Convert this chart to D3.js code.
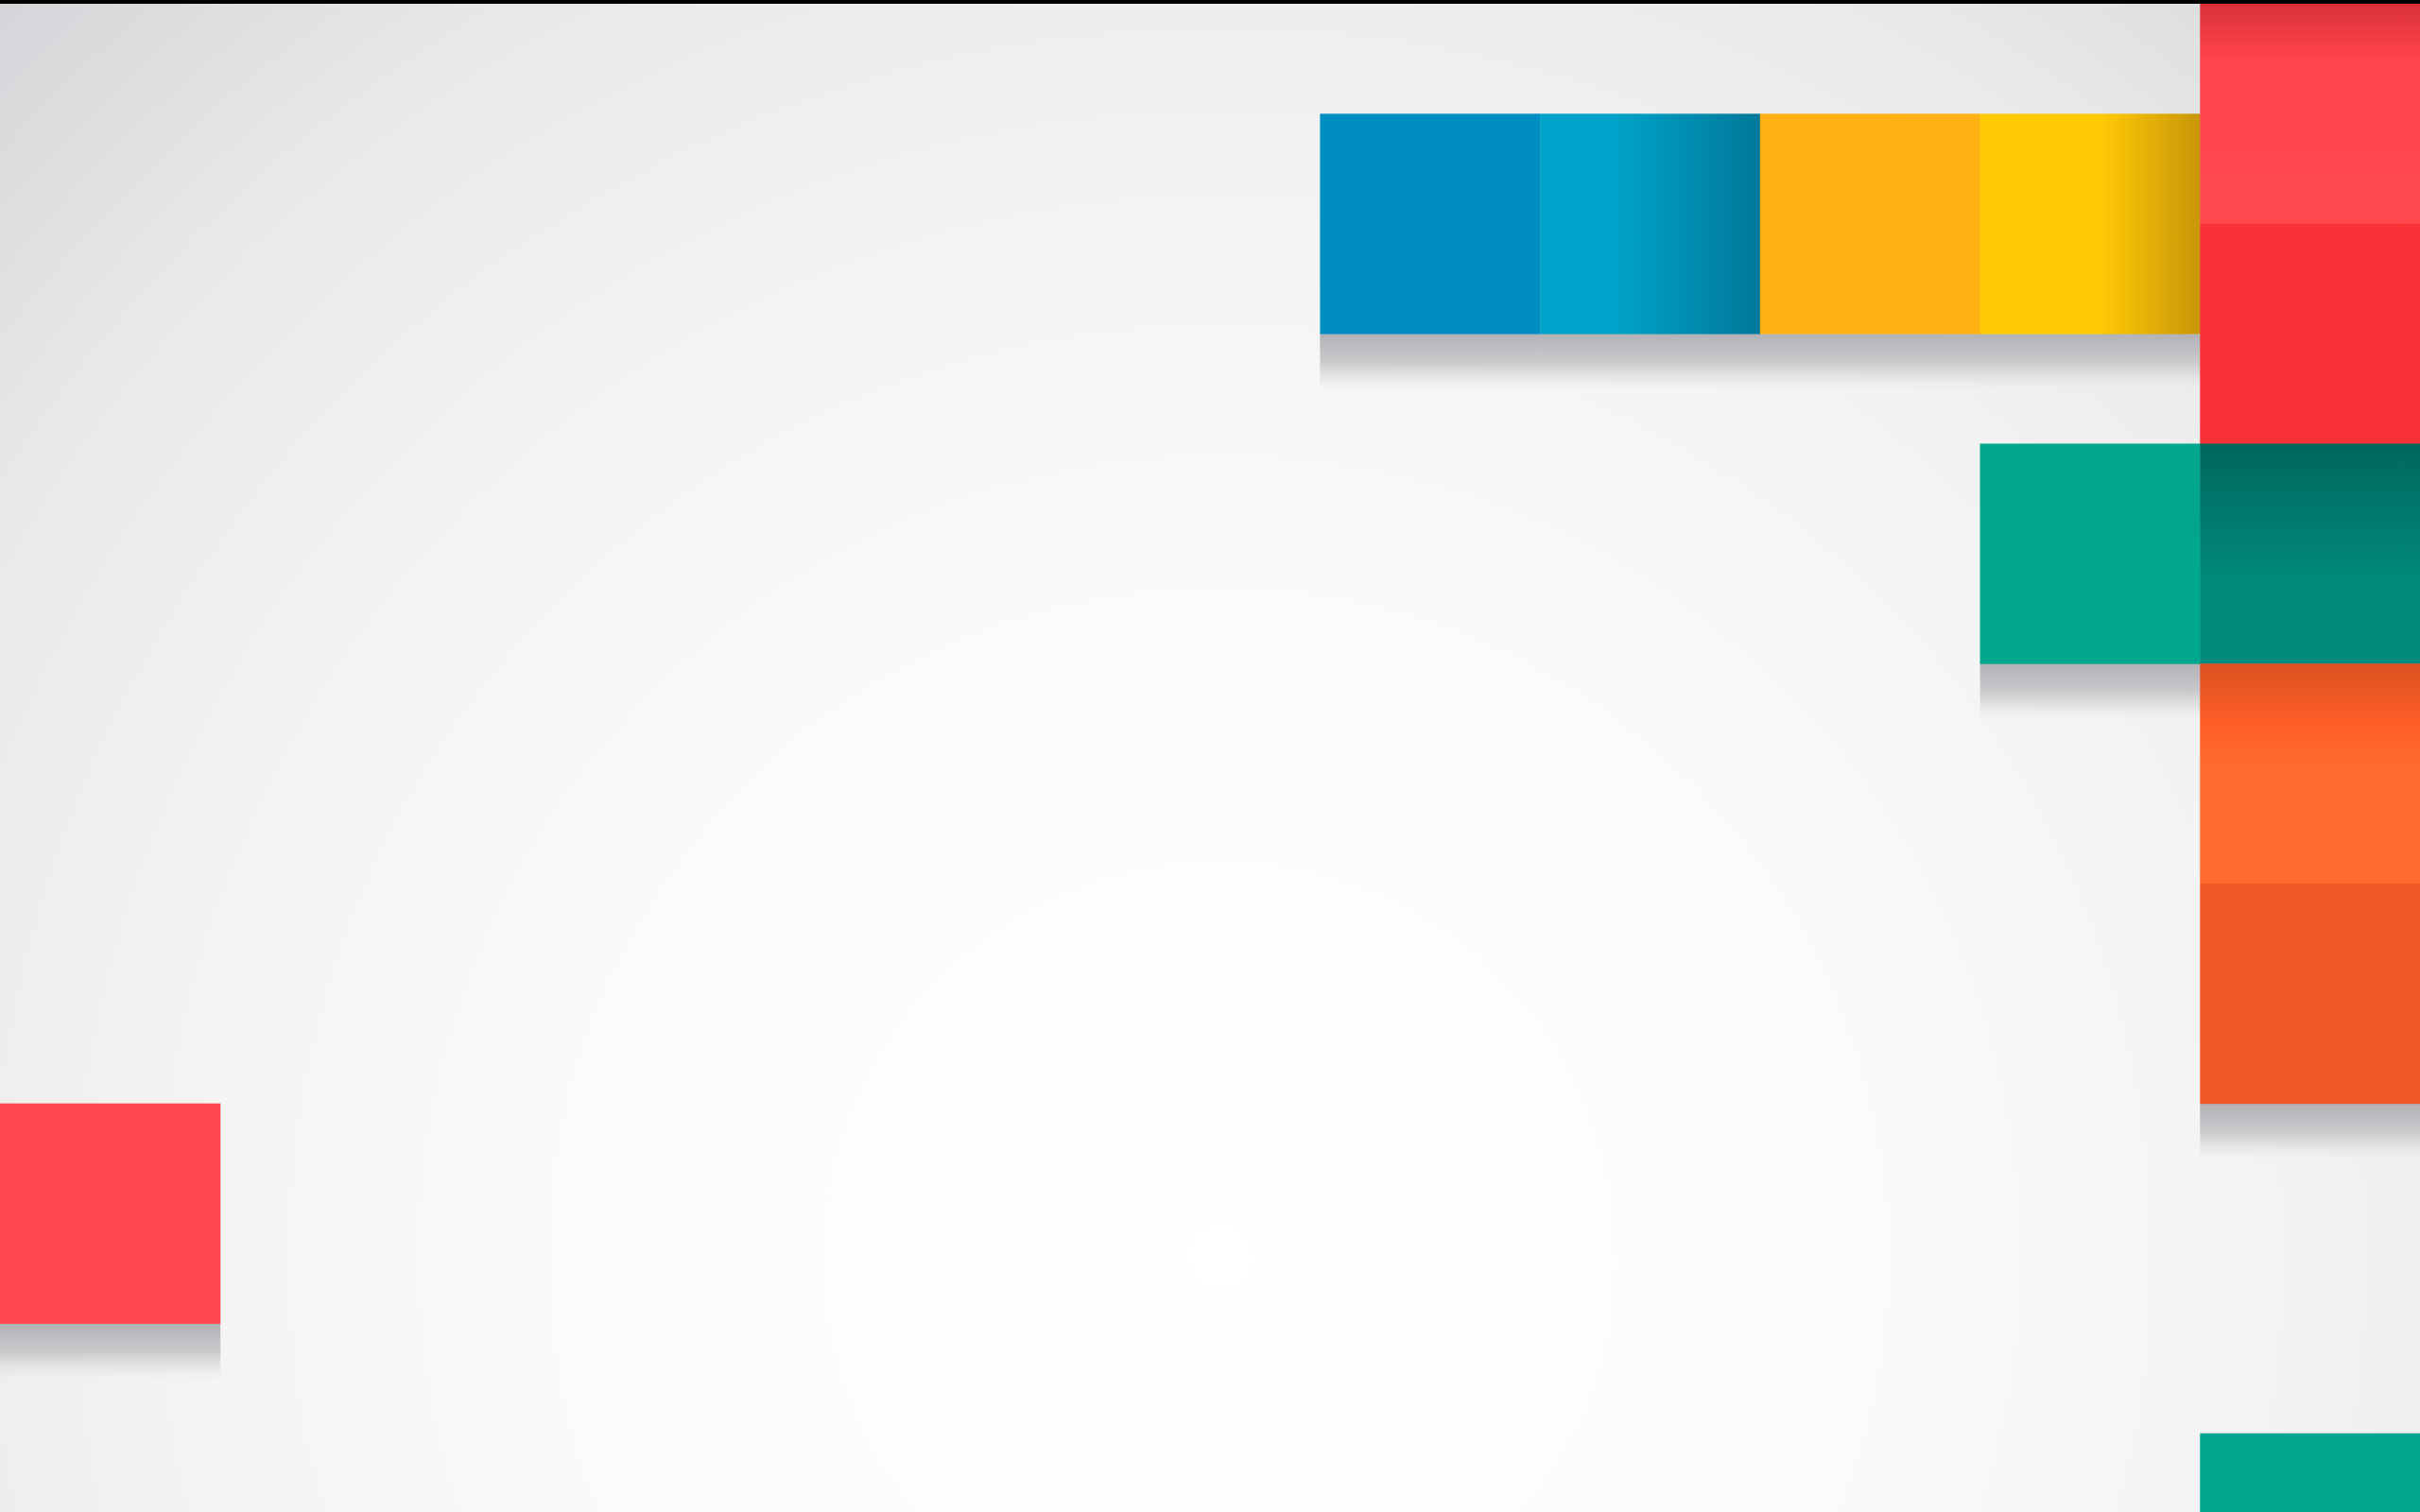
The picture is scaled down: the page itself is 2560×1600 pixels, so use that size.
<!DOCTYPE html>
<html>
<head>
<meta charset="utf-8">
<script src="https://cdn.jsdelivr.net/npm/d3@7"></script>
<style>
  html, body { margin: 0; padding: 0; background: #f2f2f2; overflow: hidden; }
  #tiles-graphic { width: 2560px; height: 1600px; }
</style>
</head>
<body>
<div id="tiles-graphic"></div>
<script>
// tile grid: 11 columns, rows are the same size as columns
var tileCols  = [6, 7, 8, 9, 10, 10, 9, 10, 10, 10, 0, 10];
var tileRows  = [0.5, 0.5, 0.5, 0.5, 0, 1, 2, 2, 3, 4, 5, 6.5];
var tileFills = ["#008dc2", "grad-cyan", "#ffb114", "grad-yellow", "grad-red",
                 "#f93238", "#00a68d", "grad-teal", "grad-orange", "#f2572a",
                 "#ff474d", "#00a68d"];

// gradient stops, [offset, colour]
var gradCyan   = [[0, "#00a3c9"], [0.33, "#00a3c9"], [1, "#007899"]];
var gradYellow = [[0, "#ffc905"], [0.55, "#ffc905"], [1, "#c8960a"]];
var gradRed    = [[0, "#da3139"], [0.25, "#ff444b"], [1, "#ff494f"]];
var gradTeal   = [[0, "#00675d"], [0.6, "#00897a"], [1, "#008c7c"]];
var gradOrange = [[0, "#da5020"], [0.28, "#ff5e27"], [0.45, "#ff6a2e"], [1, "#ff6a2e"]];

var W = 2560, H = 1600;
var ncols = 11;
var cell = W / ncols;
var topBar = 4;

var x = d3.scaleLinear().domain([0, ncols]).range([0, W]);
var y = d3.scaleLinear().domain([0, 1]).range([topBar, topBar + cell]);

var tiles = tileCols.map(function (c, i) {
  return { col: c, row: tileRows[i], fill: tileFills[i] };
});

// 下面没有方块的才有阴影
var shadowed = tiles.filter(function (t) {
  return !tiles.some(function (o) { return o.col == t.col && o.row == t.row + 1; });
});

var svg = d3.select("#tiles-graphic")
  .append("svg")
  .attr("width", W)
  .attr("height", H);

var defs = svg.append("defs");

// background: soft radial light from lower middle
var bg = defs.append("radialGradient")
  .attr("id", "bg")
  .attr("gradientUnits", "userSpaceOnUse")
  .attr("cx", 1290).attr("cy", 1330).attr("r", 1870);
[[0, "#ffffff"], [0.35, "#fbfbfb"], [0.6, "#f3f3f3"], [0.8, "#e9e9ea"], [1, "#d3d4d7"]]
  .forEach(function (s) {
    bg.append("stop").attr("offset", s[0]).attr("stop-color", s[1]);
  });

function addGrad(id, stops, vertical) {
  var g = defs.append("linearGradient")
    .attr("id", id)
    .attr("x1", 0).attr("y1", 0)
    .attr("x2", vertical ? 0 : 1).attr("y2", vertical ? 1 : 0);
  stops.forEach(function (s) {
    g.append("stop").attr("offset", s[0]).attr("stop-color", s[1]);
  });
}
addGrad("grad-cyan", gradCyan, false);
addGrad("grad-yellow", gradYellow, false);
addGrad("grad-red", gradRed, true);
addGrad("grad-teal", gradTeal, true);
addGrad("grad-orange", gradOrange, true);

var sh = defs.append("linearGradient")
  .attr("id", "shadow")
  .attr("x1", 0).attr("y1", 0).attr("x2", 0).attr("y2", 1);
sh.append("stop").attr("offset", 0).attr("stop-color", "#b1b1b6").attr("stop-opacity", 1);
sh.append("stop").attr("offset", 0.5).attr("stop-color", "#c8c8cb").attr("stop-opacity", 0.95);
sh.append("stop").attr("offset", 0.8).attr("stop-color", "#e0e0e2").attr("stop-opacity", 0.6);
sh.append("stop").attr("offset", 1).attr("stop-color", "#ececed").attr("stop-opacity", 0);

svg.append("rect")
  .attr("width", W)
  .attr("height", H)
  .attr("fill", "url(#bg)");

// shadows first so the tiles sit on top
svg.append("g")
  .attr("class", "shadows")
  .selectAll("rect")
  .data(shadowed)
  .enter()
  .append("rect")
  .attr("x", function (d) { return x(d.col); })
  .attr("y", function (d) { return y(d.row + 1); })
  .attr("width", x(1) - x(0) + 0.5)
  .attr("height", cell * 0.26)
  .attr("fill", "url(#shadow)");

svg.append("g")
  .attr("class", "tiles")
  .selectAll("rect")
  .data(tiles)
  .enter()
  .append("rect")
  .attr("x", function (d) { return x(d.col); })
  .attr("y", function (d) { return y(d.row); })
  .attr("width", x(1) - x(0) + 0.5)
  .attr("height", y(1) - y(0) + 0.5)
  .attr("fill", function (d) {
    return d.fill.indexOf("grad") == 0 ? "url(#" + d.fill + ")" : d.fill;
  });

// black line along the top edge
svg.append("rect")
  .attr("width", W)
  .attr("height", topBar)
  .attr("fill", "#000");
</script>
</body>
</html>
